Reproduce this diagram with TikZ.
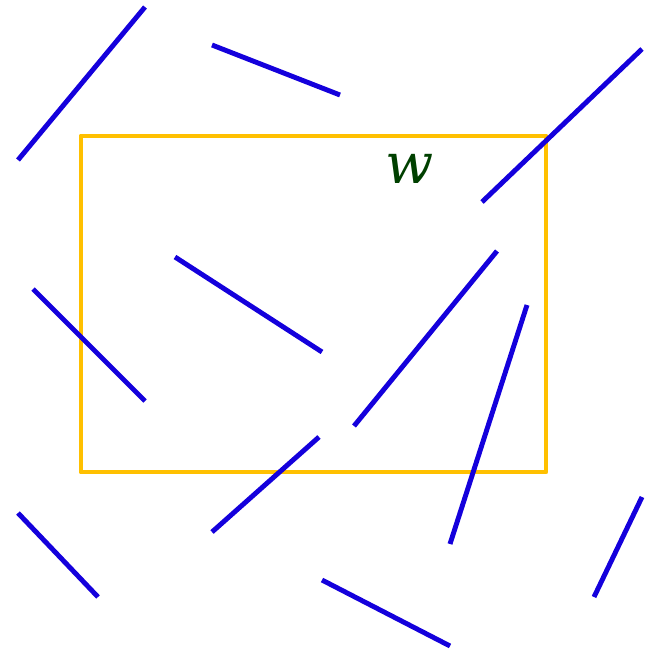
\documentclass[tikz,border=0pt]{standalone}
\usepackage{xcolor}
\usepackage{fontspec}
\usepackage{tikz}
\newfontfamily\lblfont{DejaVu Serif}
\definecolor{SegBlue}{RGB}{20,0,220}
\definecolor{WinGold}{RGB}{255,192,0}
\definecolor{LblGreen}{RGB}{0,64,0}

\begin{document}
\begin{tikzpicture}[x=0.02cm, y=-0.02cm,
            seg/.style={SegBlue, line width=2.8pt},
            win/.style={WinGold, line width=2.8pt, line join=round},
            lbl/.style={text=LblGreen, font=\lblfont\itshape\fontsize{32}{36}\selectfont}
          ]
          \useasboundingbox (0,0) rectangle (650,652);
          % window
          \coordinate (wa) at (81,136);
          \coordinate (wb) at (546,472);
          \draw[win] (wa) rectangle (wb);
          \node[lbl] (w) at (410,169) {w};

          % segments
          \coordinate (a1) at (18,160);   \coordinate (b1) at (145,7);
          \coordinate (a2) at (212,45);   \coordinate (b2) at (340,95);
          \coordinate (a3) at (482,202);  \coordinate (b3) at (642,49);
          \coordinate (a4) at (175,257);  \coordinate (b4) at (322,352);
          \coordinate (a5) at (33,289);   \coordinate (b5) at (145,401);
          \coordinate (a6) at (354,426);  \coordinate (b6) at (497,251);
          \coordinate (a7) at (450,544);  \coordinate (b7) at (527,305);
          \coordinate (a8) at (212,532);  \coordinate (b8) at (319,437);
          \coordinate (a9) at (18,513);   \coordinate (b9) at (98,597);
          \coordinate (a10) at (322,580); \coordinate (b10) at (450,646);
          \coordinate (a11) at (594,597); \coordinate (b11) at (642,497);
          \foreach \i in {1,...,11}
            \draw[seg] (a\i) -- (b\i);
        \end{tikzpicture}
\end{document}
